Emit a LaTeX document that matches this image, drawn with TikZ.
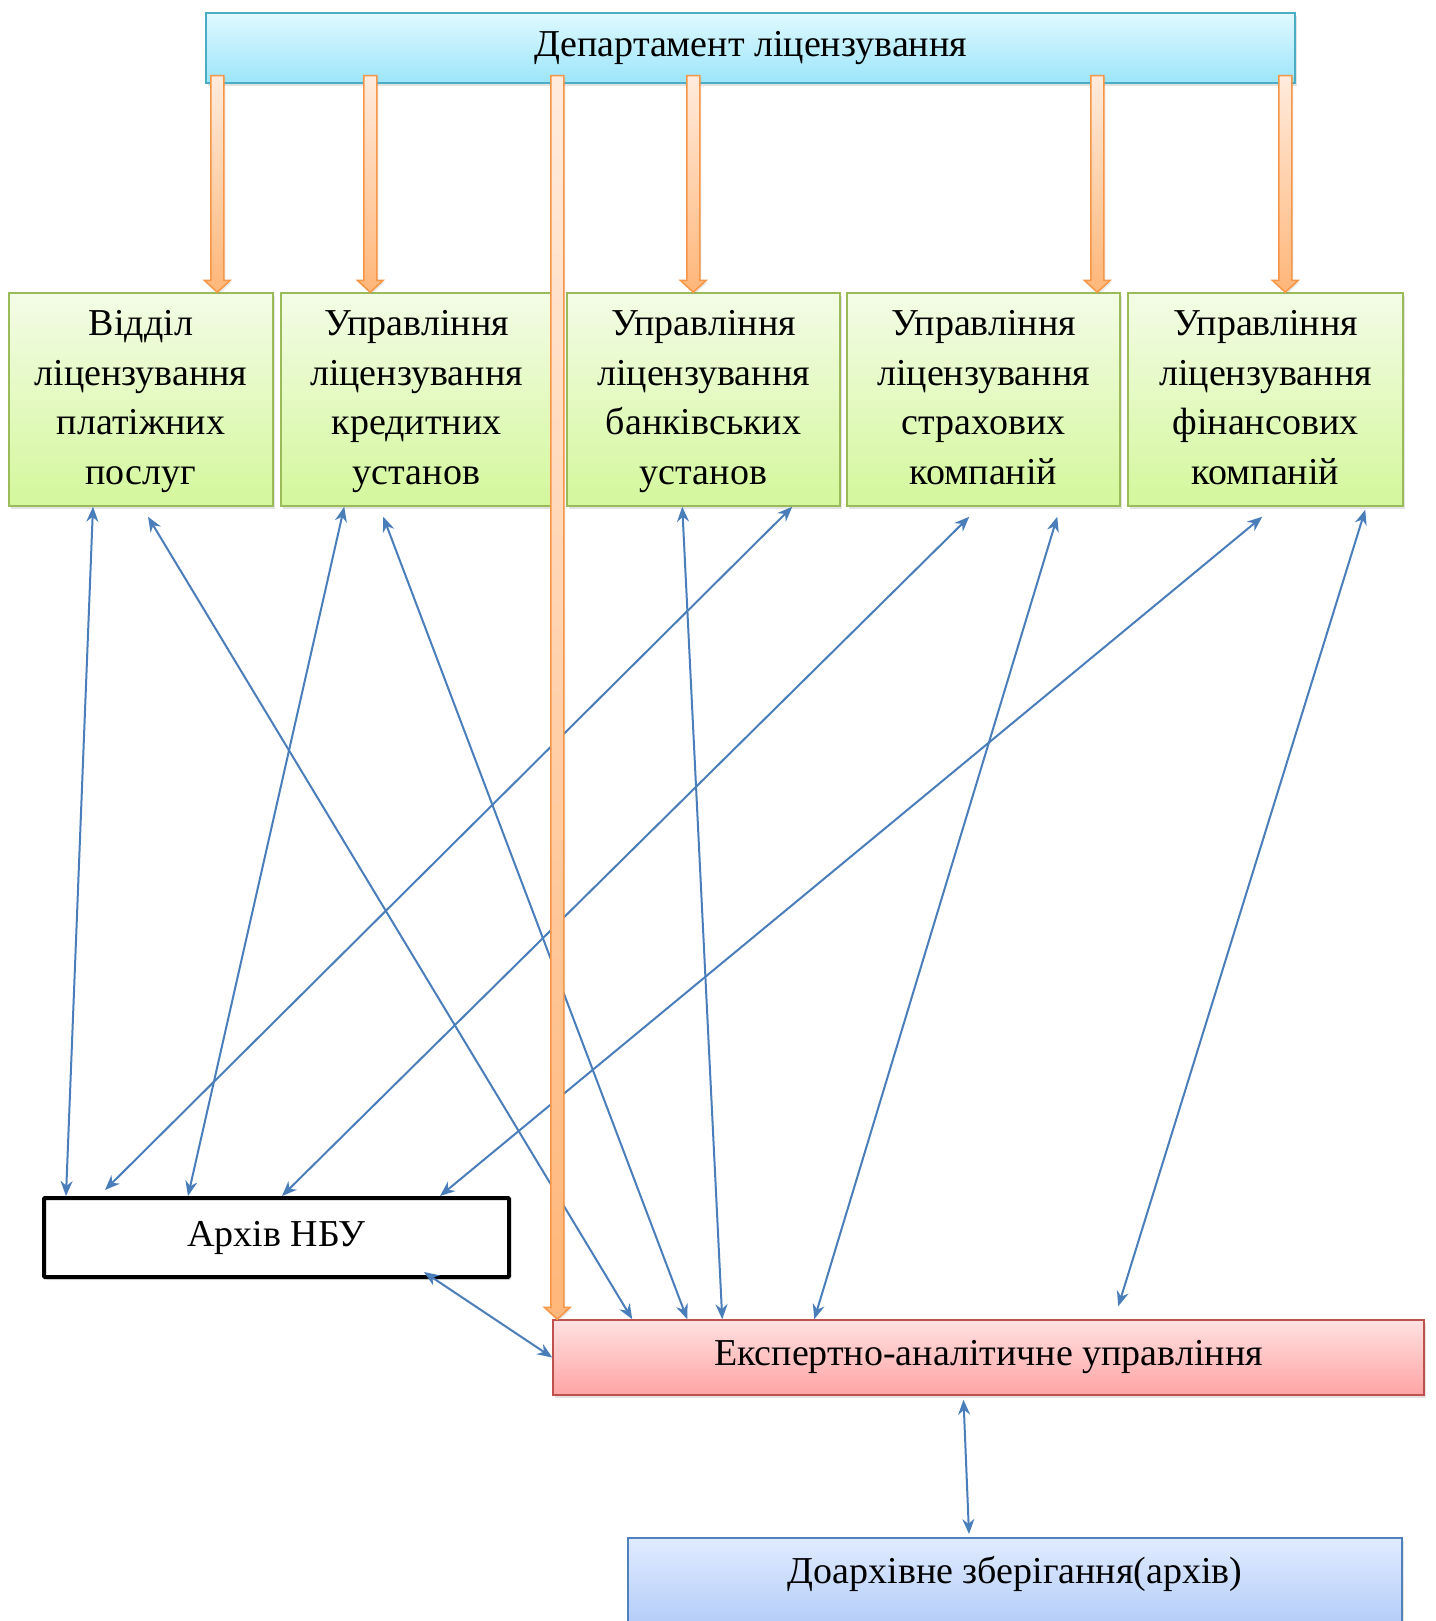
\documentclass[tikz,border=0pt]{standalone}
\usepackage{fontspec}
\setmainfont{Liberation Serif}
\usetikzlibrary{arrows.meta, calc, shadows}
\definecolor{deptTop}{HTML}{E0F9FF}
\definecolor{deptBot}{HTML}{9CE5FA}
\definecolor{deptLine}{HTML}{4BACC6}
\definecolor{divTop}{HTML}{F3FCE6}
\definecolor{divBot}{HTML}{D4F79C}
\definecolor{divLine}{HTML}{9BBB59}
\definecolor{expTop}{HTML}{FFE1E1}
\definecolor{expBot}{HTML}{FFA4A4}
\definecolor{expLine}{HTML}{C0504D}
\definecolor{preTop}{HTML}{E0EBFF}
\definecolor{preBot}{HTML}{A4C2F6}
\definecolor{preLine}{HTML}{4F81BD}
\definecolor{oraTop}{HTML}{FFEBDD}
\definecolor{oraBot}{HTML}{FFB679}
\definecolor{oraLine}{HTML}{F79646}
\definecolor{linkblue}{HTML}{4A7EBB}
\tikzset{
  unitbox/.style   = {rectangle, inner sep=0pt, align=center,
                      font=\fontsize{38}{49.6}\selectfont, line width=1.5pt,
                      drop shadow={opacity=0.22, shadow xshift=2pt, shadow yshift=-3pt}},
  deptbox/.style   = {unitbox, draw=deptLine, top color=deptTop, bottom color=deptBot,
                      minimum width=1089pt, minimum height=70pt},
  divbox/.style    = {unitbox, draw=divLine, top color=divTop, bottom color=divBot,
                      minimum height=213pt, text height=180pt, text depth=10pt},
  nbubox/.style    = {unitbox, draw=black, fill=white, line width=4pt,
                      rounded corners=1pt, drop shadow={opacity=0},
                      minimum width=465pt, minimum height=79pt},
  expertbox/.style = {unitbox, draw=expLine, top color=expTop, bottom color=expBot,
                      minimum width=871pt, minimum height=75pt},
  prebox/.style    = {unitbox, draw=preLine, top color=preTop, bottom color=preBot,
                      minimum width=774pt, minimum height=118pt,
                      text height=46pt, text depth=72pt},
  linkarrow/.style = {draw=linkblue, line width=2pt,
                      {Stealth[length=15pt,width=12pt]}-{Stealth[length=15pt,width=12pt]}},
  orangebody/.style = {draw=oraLine, line width=1.5pt, line join=miter,
                      top color=oraTop, bottom color=oraBot,
                      drop shadow={opacity=0.18, shadow xshift=1.5pt, shadow yshift=-2pt}},
}
% thick orange arrow from the department box down to a node
\newcommand{\blockarrow}[2]{%
  \path[orangebody] let \p1=([xshift=#1pt,yshift=8pt]dept.south west), \p2=(#2.north) in
    (\x1-6.5pt,\y1) -- (\x1+6.5pt,\y1) -- (\x1+6.5pt,\y2+12pt)
    -- (\x1+13pt,\y2+12pt) -- (\x1,\y2) -- (\x1-13pt,\y2+12pt)
    -- (\x1-6.5pt,\y2+12pt) -- cycle;}

\begin{document}
\begin{tikzpicture}[x=1pt, y=-1pt]
  \useasboundingbox (0,0) rectangle (1435,1621);
  \clip (0,0) rectangle (1435,1621);
  % boxes
  \node[deptbox] (dept) at (750.5,48) {Департамент ліцензування};
  \node[divbox, minimum width=264pt] (pay) at (141,399.5)
    {Відділ\\ліцензування\\платіжних\\послуг};
  \node[divbox, minimum width=271pt] (cred) at (416.5,399.5)
    {Управління\\ліцензування\\кредитних\\установ};
  \node[divbox, minimum width=273pt] (bank) at (703.5,399.5)
    {Управління\\ліцензування\\банківських\\установ};
  \node[divbox, minimum width=273pt] (ins) at (983.5,399.5)
    {Управління\\ліцензування\\страхових\\компаній};
  \node[divbox, minimum width=275pt] (fin) at (1265.5,399.5)
    {Управління\\ліцензування\\фінансових\\компаній};
  \node[nbubox] (nbu) at (276.5,1237.5) {Архів НБУ};
  \node[expertbox] (expert) at (988.5,1357.5) {Експертно-аналітичне управління};
  \node[prebox, anchor=north] (prearch) at (1015,1537) {Доархівне зберігання(архів)};

  % links to the archive and to the expert unit
  \draw[linkarrow] ([xshift=-48pt]pay.south) -- ([xshift=24pt]nbu.north west);
  \draw[linkarrow] ([xshift=7pt,yshift=-10pt]pay.south) -- ([xshift=80pt]expert.north west);
  \draw[linkarrow] ([xshift=64pt]cred.south west) -- ([xshift=146pt]nbu.north west);
  \draw[linkarrow] ([xshift=103pt,yshift=-10pt]cred.south west) -- ([xshift=135pt]expert.north west);
  \draw[linkarrow] ([xshift=226pt]bank.south west) -- ([xshift=63pt,yshift=6pt]nbu.north west);
  \draw[linkarrow] ([xshift=116pt]bank.south west) -- ([xshift=170pt]expert.north west);
  \draw[linkarrow] ([xshift=123pt,yshift=-10pt]ins.south west) -- ([xshift=240pt]nbu.north west);
  \draw[linkarrow] ([xshift=211pt,yshift=-10pt]ins.south west) -- ([xshift=262pt]expert.north west);
  \draw[linkarrow] ([xshift=135pt,yshift=-10pt]fin.south west) -- ([xshift=398pt]nbu.north west);
  \draw[linkarrow] ([xshift=238pt,yshift=-3pt]fin.south west) -- ([xshift=566pt,yshift=13pt]expert.north west);
  \draw[linkarrow] ([xshift=382pt,yshift=7pt]nbu.south west) -- (expert.west);
  \draw[linkarrow] ([xshift=-25pt,yshift=-4pt]expert.south) -- ([xshift=-46pt,yshift=3pt]prearch.north);

  % orange arrows from the department
  \blockarrow{12}{pay}
  \blockarrow{165}{cred}
  \blockarrow{352}{expert}
  \blockarrow{488}{bank}
  \blockarrow{892}{ins}
  \blockarrow{1080}{fin}
\end{tikzpicture}
\end{document}
